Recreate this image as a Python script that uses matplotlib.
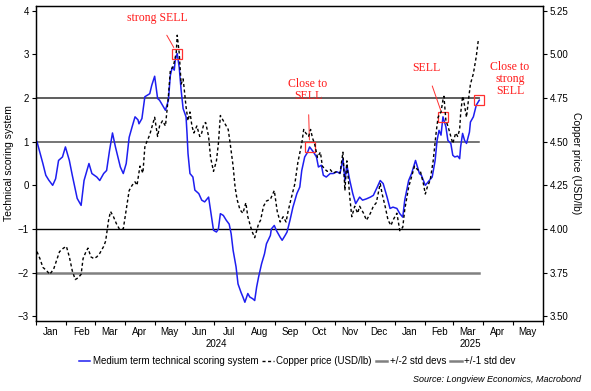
import numpy as np
import pandas as pd
import matplotlib
matplotlib.use('Agg')
import matplotlib.pyplot as plt
import matplotlib.dates as mdates

plt.rcParams['font.family'] = ['Liberation Sans', 'DejaVu Sans']

start = pd.Timestamp('2024-01-01')

# technical score: days since 1 Jan 2024, score
score_day = [1, 7, 10, 13, 17, 20, 23, 27, 30, 34, 37, 42, 46, 49, 54, 57, 62, 65, 69, 72,
             75, 78, 81, 86, 89, 92, 95, 98, 101, 104, 105, 108, 111, 116, 118, 121, 124, 126, 132, 135,
             137, 139, 141, 142, 144, 146, 148, 150, 153, 154, 155, 157, 160, 162, 166, 169, 172, 176, 178, 181,
             184, 186, 188, 191, 194, 197, 199, 201, 204, 206, 209, 211, 213, 216, 218, 221, 223, 225, 227, 230,
             233, 235, 239, 240, 243, 245, 249, 251, 254, 256, 259, 262, 266, 269, 271, 274, 277, 279, 283, 286,
             288, 291, 293, 296, 300, 303, 307, 310, 313, 315, 317, 320, 323, 326, 330, 333, 337, 341, 344, 348,
             351, 354, 358, 361, 364, 368, 371, 374, 376, 380, 383, 387, 389, 391, 393, 397, 400, 404, 407, 409,
             411, 413, 415, 418, 420, 423, 425, 427, 430, 432, 433, 435, 437, 439, 442, 443, 446, 449, 452]
score = [1.0, 0.5, 0.23, 0.12, 0.0, 0.15, 0.57, 0.65, 0.88, 0.57, 0.23, -0.3, -0.46, 0.11, 0.5, 0.27, 0.19, 0.11, 0.27, 0.34,
         0.8, 1.2, 0.88, 0.42, 0.27, 0.5, 1.1, 1.34, 1.57, 1.5, 1.41, 1.53, 2.03, 2.1, 2.29, 2.5, 1.99, 1.95, 1.72, 1.95,
         2.52, 2.71, 2.64, 2.87, 3.02, 2.71, 2.18, 1.76, 1.57, 1.19, 0.73, 0.27, 0.19, -0.11, -0.19, -0.34, -0.38, -0.27, -0.57, -1.03,
         -1.07, -1.0, -0.65, -0.69, -0.8, -0.89, -1.11, -1.49, -1.87, -2.26, -2.45, -2.56, -2.68, -2.48, -2.56, -2.6, -2.64, -2.33, -2.1, -1.8,
         -1.57, -1.34, -1.15, -1.0, -0.92, -1.03, -1.19, -1.26, -1.15, -1.07, -0.8, -0.5, -0.19, -0.04, 0.34, 0.65, 0.76, 0.88, 0.76, 0.65,
         0.42, 0.46, 0.23, 0.19, 0.27, 0.27, 0.31, 0.27, 0.61, 0.11, 0.46, 0.11, -0.19, -0.42, -0.27, -0.34, -0.31, -0.27, -0.23, -0.04,
         0.11, 0.04, -0.27, -0.53, -0.5, -0.53, -0.65, -0.73, -0.34, 0.11, 0.27, 0.57, 0.42, 0.27, 0.23, 0.0, 0.08, 0.19, 0.57, 1.03,
         1.26, 1.15, 1.57, 1.34, 1.03, 0.96, 0.69, 0.65, 0.67, 0.61, 0.88, 1.19, 1.03, 0.96, 1.22, 1.45, 1.57, 1.84, 1.95]

# copper price (USD/lb)
copper_day = [1, 4, 7, 11, 14, 18, 21, 24, 28, 31, 34, 37, 40, 43, 46, 48, 51, 53, 56, 59,
              62, 65, 69, 71, 74, 76, 79, 82, 85, 89, 92, 95, 98, 101, 103, 106, 109, 111, 113, 116,
              120, 121, 124, 126, 129, 132, 135, 137, 140, 143, 144, 146, 148, 150, 151, 153, 155, 157, 159, 161,
              164, 167, 169, 171, 173, 176, 178, 181, 184, 186, 188, 191, 194, 196, 198, 201, 203, 205, 208, 211,
              214, 216, 220, 223, 227, 229, 232, 235, 239, 243, 246, 249, 252, 255, 257, 260, 264, 267, 271, 273,
              275, 278, 280, 282, 284, 287, 290, 292, 295, 297, 300, 303, 307, 310, 313, 315, 317, 320, 322, 325,
              328, 330, 334, 337, 341, 344, 347, 351, 353, 356, 359, 362, 364, 368, 371, 374, 376, 380, 383, 386,
              389, 392, 395, 397, 399, 402, 405, 408, 410, 413, 415, 416, 418, 420, 423, 425, 428, 430, 432, 433,
              435, 436, 439, 441, 443, 446, 449, 451]
copper = [3.87, 3.83, 3.78, 3.76, 3.74, 3.77, 3.82, 3.87, 3.89, 3.90, 3.84, 3.76, 3.71, 3.72, 3.74, 3.83, 3.87, 3.89, 3.84, 3.83,
          3.84, 3.86, 3.90, 3.93, 4.05, 4.10, 4.07, 4.03, 4.00, 4.00, 4.11, 4.22, 4.25, 4.27, 4.25, 4.36, 4.32, 4.47, 4.50, 4.54,
          4.62, 4.64, 4.53, 4.59, 4.62, 4.59, 4.76, 4.91, 4.93, 5.01, 5.11, 5.01, 4.83, 4.86, 4.81, 4.70, 4.62, 4.67, 4.59, 4.55,
          4.59, 4.53, 4.55, 4.60, 4.61, 4.53, 4.41, 4.33, 4.39, 4.49, 4.65, 4.62, 4.59, 4.57, 4.49, 4.36, 4.24, 4.17, 4.11, 4.09,
          4.15, 4.07, 3.99, 3.95, 4.03, 4.05, 4.13, 4.16, 4.17, 4.22, 4.10, 4.04, 4.07, 4.04, 4.10, 4.17, 4.26, 4.38, 4.49, 4.57,
          4.55, 4.53, 4.57, 4.52, 4.49, 4.41, 4.44, 4.36, 4.34, 4.33, 4.34, 4.32, 4.33, 4.32, 4.44, 4.22, 4.39, 4.18, 4.07, 4.13,
          4.09, 4.13, 4.09, 4.05, 4.09, 4.13, 4.15, 4.26, 4.20, 4.13, 4.05, 4.02, 4.05, 4.09, 3.99, 4.01, 4.11, 4.24, 4.30, 4.36,
          4.34, 4.33, 4.26, 4.20, 4.24, 4.28, 4.39, 4.55, 4.64, 4.67, 4.74, 4.76, 4.62, 4.59, 4.53, 4.49, 4.55, 4.53, 4.57, 4.66,
          4.76, 4.74, 4.64, 4.74, 4.83, 4.89, 4.99, 5.08]

# signal annotations
signal_day = [144, 279, 415, 452]
signal_text = ['strong SELL', 'Close to\nSELL', 'SELL', 'Close to\nstrong\nSELL']

score_dates = start + pd.to_timedelta(score_day, unit='D')
copper_dates = start + pd.to_timedelta(copper_day, unit='D')

fig = plt.figure(figsize=(5.91, 3.91), dpi=100)
ax = fig.add_axes([36 / 591, 1 - 321 / 391, 507 / 591, 315 / 391])
ax2 = ax.twinx()

# reference lines
x0, x1 = score_dates[0], score_dates[-1]
ax.plot([x0, x1], [2, 2], color='#505050', lw=1.3)
ax.plot([x0, x1], [-2, -2], color='#808080', lw=1.8)
ax.plot([x0, x1], [1, 1], color='#505050', lw=1.1)
ax.plot([x0, x1], [-1, -1], color='black', lw=1.0)

blue, = ax.plot(score_dates, score, color='#1e1ef0', lw=1.1, zorder=5)

# copper on the right axis, scaled so 4.25 sits at score 0
ylo, yhi = -3.11, 4.11
ax.set_ylim(ylo, yhi)
ax2.set_ylim(4.25 + 0.25 * ylo, 4.25 + 0.25 * yhi)
cu, = ax2.plot(copper_dates, copper, color='black', lw=1.0, ls=(0, (2.2, 1.8)), zorder=4)

# signal boxes and labels
sig_dates = start + pd.to_timedelta(signal_day, unit='D')
sig_vals = [score[score_day.index(d)] for d in signal_day]
ax.plot(sig_dates, sig_vals, ls='none', marker='s', ms=6.5, mfc='none', mec='#ff3030', mew=0.9, zorder=7)
text_pos = [(157, 373), (308, 301), (426, 323), (510, 312)]
for d, v, t, p in zip(sig_dates, sig_vals, signal_text, text_pos):
    ax.annotate(t, xy=(d, v), xycoords='data', xytext=p, textcoords='figure pixels',
                ha='center', va='center', color='#ff1a1a', fontsize=8.5, family='Liberation Serif',
                linespacing=1.05,
                arrowprops=dict(arrowstyle='-', color='#ff3030', lw=0.7, shrinkA=7, shrinkB=5))

ax.set_xlim(pd.Timestamp('2024-01-01'), pd.Timestamp('2025-06-01'))
ax.xaxis.set_major_locator(mdates.MonthLocator())
ax.xaxis.set_major_formatter(plt.NullFormatter())
ax.xaxis.set_minor_locator(mdates.MonthLocator(bymonthday=16))
ax.xaxis.set_minor_formatter(mdates.DateFormatter('%b'))
ax.tick_params(axis='x', which='major', length=3, width=0.8)
ax.tick_params(axis='x', which='minor', length=0, labelsize=7, pad=4)

ax.set_yticks(range(-3, 5))
ax.tick_params(axis='y', length=3, width=0.8, labelsize=7, pad=2)
ax2.set_yticks([3.5, 3.75, 4.0, 4.25, 4.5, 4.75, 5.0, 5.25])
ax2.set_yticklabels(['3.50', '3.75', '4.00', '4.25', '4.50', '4.75', '5.00', '5.25'])
ax2.tick_params(axis='y', length=3, width=0.8, labelsize=7, pad=2)

ax.set_ylabel('Technical scoring system', fontsize=7.5, labelpad=3)
ax2.set_ylabel('Copper price (USD/lb)', fontsize=7.5, rotation=270, labelpad=9)

for a in (ax, ax2):
    for s in a.spines.values():
        s.set_linewidth(0.9)

# year labels
ax.text(pd.Timestamp('2024-07-03'), -0.058, '2024', transform=ax.get_xaxis_transform(),
        ha='center', va='top', fontsize=7)
ax.text(pd.Timestamp('2025-03-19'), -0.058, '2025', transform=ax.get_xaxis_transform(),
        ha='center', va='top', fontsize=7)

g2 = plt.Line2D([], [], color='#808080', lw=1.8)
g1 = plt.Line2D([], [], color='#808080', lw=1.8)
fig.legend([blue, cu, g2, g1],
           ['Medium term technical scoring system', 'Copper price (USD/lb)', '+/-2 std devs', '+/-1 std dev'],
           loc='center', bbox_to_anchor=(297 / 591, 1 - 361 / 391), ncol=4, frameon=False,
           fontsize=7, handlelength=1.2, handletextpad=0.25, columnspacing=0.4)

fig.text(581 / 591, 1 - 380 / 391, 'Source: Longview Economics, Macrobond', ha='right', va='center',
         fontsize=6.5, style='italic')

fig.savefig('out.png', dpi=100)
